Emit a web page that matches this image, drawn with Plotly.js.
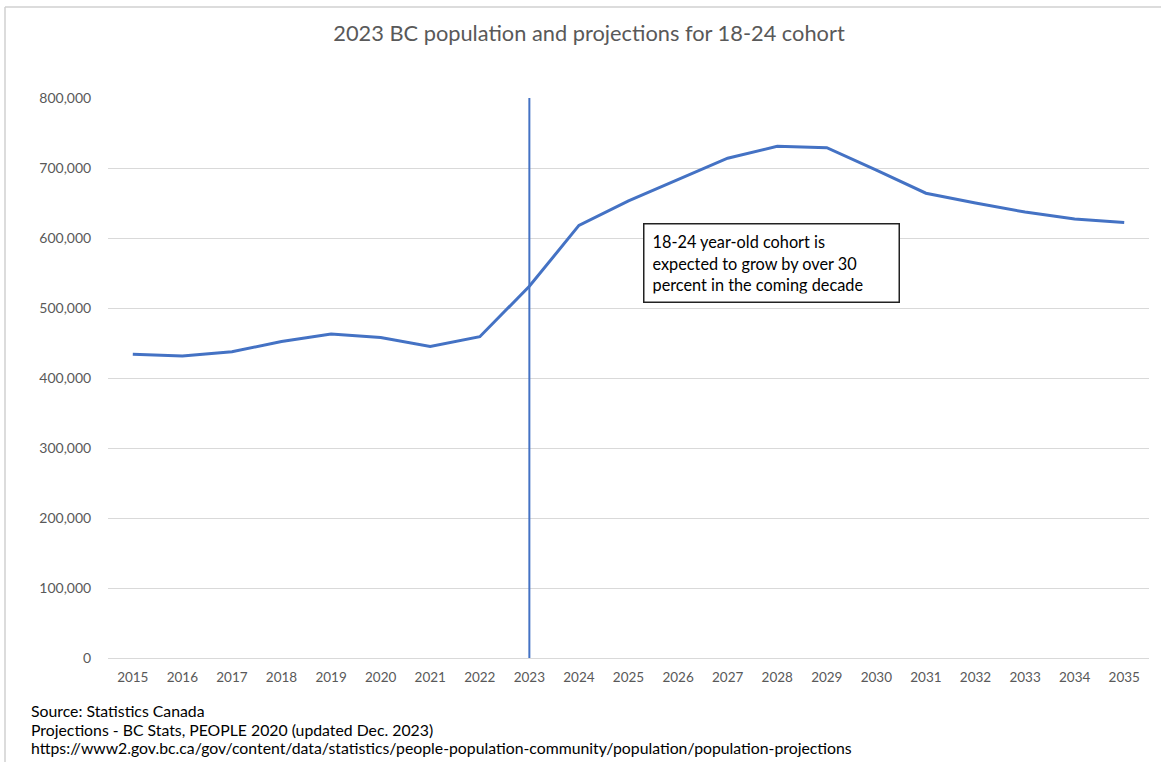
<!DOCTYPE html>
<html><head><meta charset="utf-8">
<script src="https://cdn.plot.ly/plotly-3.0.1.min.js"></script>
<style>html,body{margin:0;padding:0;background:#fff}#chart{width:1161px;height:762px}</style>
</head><body><div id="chart"></div>
<script>
const years = [2015,2016,2017,2018,2019,2020,2021,2022,2023,2024,2025,2026,2027,2028,2029,2030,2031,2032,2033,2034,2035];
const population = [434000,431500,437500,452000,463000,458000,445000,459000,531000,618000,653000,683000,714000,731000,729000,697000,664000,650000,637000,627000,622000];
const yTicks = [0,100000,200000,300000,400000,500000,600000,700000,800000];
const markerYear = 2023;
const titleText = '2023 BC population and projections for 18-24 cohort';
const noteText = '18-24 year-old cohort is<br>expected to grow by over 30<br>percent in the coming decade';
const sourceLines = ['Source: Statistics Canada','Projections - BC Stats, PEOPLE 2020 (updated Dec. 2023)','https://www2.gov.bc.ca/gov/content/data/statistics/people-population-community/population/population-projections'];

const W=1161,H=762, L=108, R=12, T=98, B=104;
const pw=W-L-R, ph=H-T-B;
const px=(x)=>(x-L)/pw, py=(y)=>(H-B-y)/ph;
const FONT='Lato, "Open Sans", sans-serif';

const trace = {x: years, y: population, type:'scatter', mode:'lines',
  line:{color:'#4472C4', width:3}, hoverinfo:'x+y'};

const annotations = [
  {xref:'paper', yref:'paper', x:px(643), y:py(223), xanchor:'left', yanchor:'top',
   text:noteText, showarrow:false, align:'left', valign:'middle',
   width:238, height:61, borderpad:8, bordercolor:'#222', borderwidth:1.5, bgcolor:'#fff',
   font:{family:FONT, size:16.3, color:'#000'}}
];
sourceLines.forEach((s,i)=>annotations.push({xref:'paper', yref:'paper', x:px(29), y:py(711+18*i),
  xanchor:'left', yanchor:'middle', text:s, showarrow:false,
  font:{family:FONT, size:15.8, color:'#000'}}));

const layout = {
  width:W, height:H, margin:{l:L, r:R, t:T, b:B},
  paper_bgcolor:'#fff', plot_bgcolor:'#fff', showlegend:false,
  title:{text:titleText, xref:'container', x:589/W, xanchor:'center', yref:'container', y:1-33/H, yanchor:'middle',
    font:{family:FONT, size:21.8, color:'#595959'}},
  xaxis:{range:[2014.5,2035.5], tickmode:'array', tickvals:years, ticktext:years.map(String),
    showgrid:false, zeroline:false, showline:true, linecolor:'#d9d9d9', linewidth:1.3,
    ticks:'outside', ticklen:6, tickcolor:'rgba(0,0,0,0)',
    tickfont:{family:FONT, size:13.5, color:'#595959'}, fixedrange:true},
  yaxis:{range:[0,800000], tickmode:'array', tickvals:yTicks, ticktext:yTicks.map(v=>v.toLocaleString('en-US')),
    showgrid:true, gridcolor:'#d9d9d9', gridwidth:1, zeroline:false, showline:false,
    ticks:'outside', ticklen:13, tickcolor:'rgba(0,0,0,0)',
    tickfont:{family:FONT, size:14, color:'#595959'}, fixedrange:true},
  shapes:[
    {type:'line', xref:'x', yref:'y', x0:markerYear, x1:markerYear, y0:0, y1:800000,
     line:{color:'#4472C4', width:2}},
    {type:'line', xref:'paper', yref:'paper', x0:px(5), x1:px(1161), y0:py(7), y1:py(7), line:{color:'#d0d0d0', width:1.5}},
    {type:'line', xref:'paper', yref:'paper', x0:px(5), x1:px(5), y0:py(7), y1:py(762), line:{color:'#d0d0d0', width:1.5}}
  ],
  annotations: annotations
};
Plotly.newPlot('chart',[trace],layout,{displayModeBar:false, staticPlot:true});
</script></body></html>
